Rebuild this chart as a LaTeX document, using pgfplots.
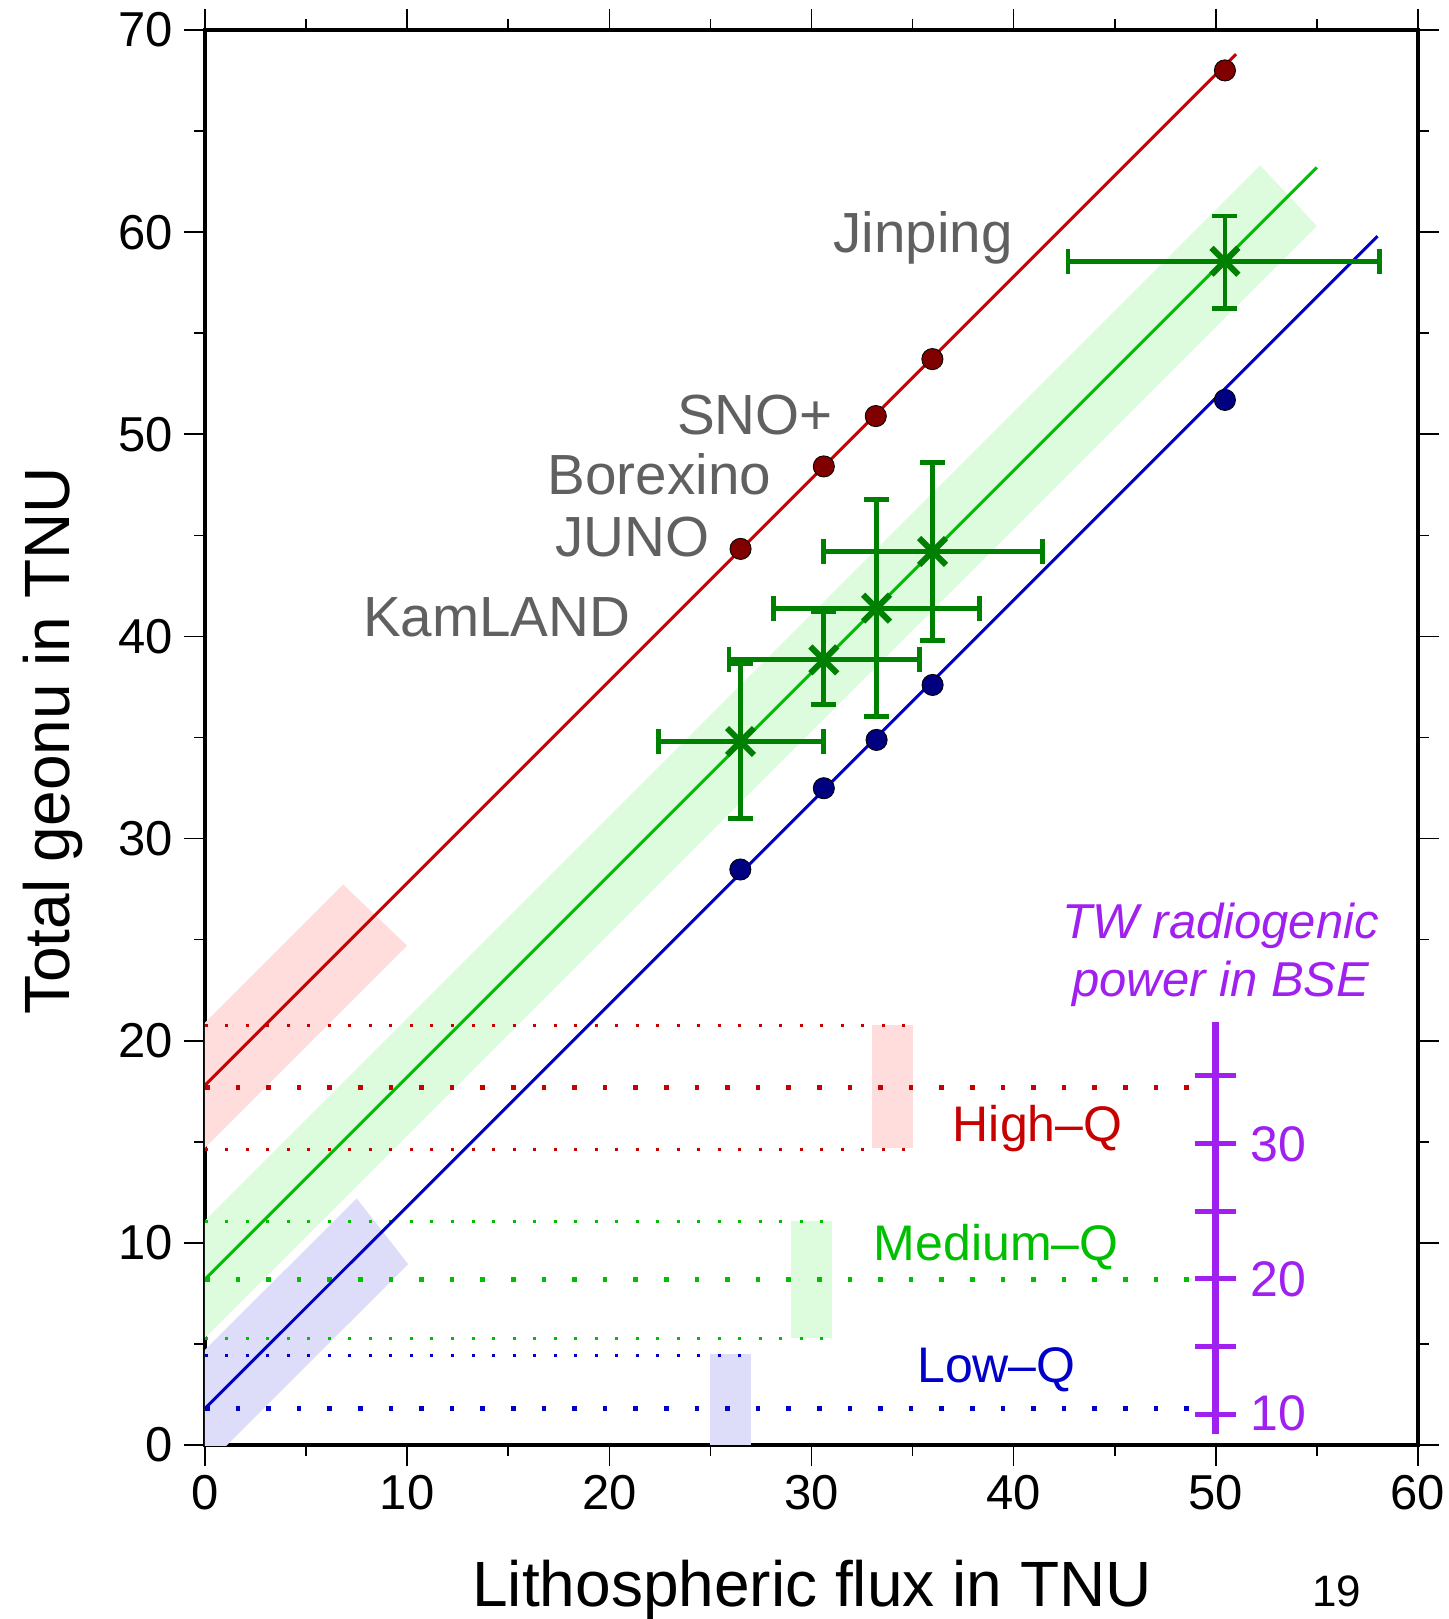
\documentclass[border=0pt]{standalone}
\usepackage{fontspec}
\setmainfont{Liberation Sans}
\usepackage{pgfplots}
\pgfplotsset{compat=1.18}
\definecolor{lred}{RGB}{200,0,0}
\definecolor{dred}{RGB}{128,0,0}
\definecolor{lgreen}{RGB}{0,190,0}
\definecolor{dgreen}{RGB}{0,128,0}
\definecolor{lblue}{RGB}{0,0,200}
\definecolor{dblue}{RGB}{0,0,128}
\definecolor{bred}{RGB}{255,221,221}
\definecolor{bgreen}{RGB}{221,251,221}
\definecolor{bblue}{RGB}{221,221,250}
\definecolor{tw}{RGB}{160,32,240}
\definecolor{lab}{RGB}{96,96,96}
\tikzset{
  thickdot/.style={line width=2.3pt, dash pattern=on 2.3pt off 13pt},
  thindot/.style={line width=1.5pt, dash pattern=on 1.5pt off 8.75pt},
}
\begin{document}
\begin{tikzpicture}
\begin{axis}[
  at={(0,0)}, anchor=south west,
  scale only axis, width=606.5pt, height=707.5pt,
  xmin=0, xmax=60, ymin=0, ymax=70,
  xtick={0,10,...,60}, minor xtick={5,15,...,55},
  ytick={0,10,...,70}, minor ytick={5,15,...,65},
  tick pos=both, tick align=outside,
  xticklabel pos=bottom, yticklabel pos=left,
  major tick length=10.5pt, minor tick length=5.5pt,
  every tick/.style={black, line width=0.8pt},
  axis line style={line width=2pt},
  ticklabel style={font=\fontsize{24.5}{30}\selectfont, /pgf/number format/assume math mode=true},
  yticklabel style={xshift=-2pt},
  xticklabel style={yshift=-1pt},
]
% bands
\addplot[fill=bred, draw=none] coordinates {(-3,17.9) (6.83,27.73) (10.0,24.7) (-3,11.7)} -- cycle;
\addplot[fill=bgreen, draw=none] coordinates {(-3,8.1) (52.2,63.3) (55.0,60.3) (-3,2.3)} -- cycle;
\addplot[fill=bblue, draw=none] coordinates {(-3,1.7) (7.5,12.2) (10.05,8.95) (-3,-4.1)} -- cycle;
% rectangles
\addplot[fill=bred, draw=none] coordinates {(33,14.7) (35,14.7) (35,20.8) (33,20.8)} -- cycle;
\addplot[fill=bgreen, draw=none] coordinates {(29,5.3) (31,5.3) (31,11.1) (29,11.1)} -- cycle;
\addplot[fill=bblue, draw=none] coordinates {(25,0) (27,0) (27,4.5) (25,4.5)} -- cycle;
% dotted lines
\addplot[lred, thindot] coordinates {(0,20.75) (35,20.75)};
\addplot[lred, thickdot] coordinates {(0,17.7) (48.8,17.7)};
\addplot[lred, thindot] coordinates {(0,14.6) (35,14.6)};
\addplot[lgreen, thindot] coordinates {(0,11.05) (31,11.05)};
\addplot[lgreen, thickdot] coordinates {(0,8.2) (48.8,8.2)};
\addplot[lgreen, thindot] coordinates {(0,5.25) (31,5.25)};
\addplot[lblue, thindot] coordinates {(0,4.45) (27,4.45)};
\addplot[lblue, thickdot] coordinates {(0,1.8) (48.8,1.8)};
% model lines
\addplot[lred, line width=1.5pt] coordinates {(0,17.8) (51.0,68.8)};
\addplot[lgreen, line width=1.5pt] coordinates {(0,8.2) (55.0,63.2)};
\addplot[lblue, line width=1.5pt] coordinates {(0,1.8) (58.0,59.8)};
% predicted points
\addplot[only marks, mark=*, mark size=5.3pt, mark options={draw=none, fill=dred}] coordinates {
  (26.49,44.33) (30.61,48.41) (33.18,50.9) (35.98,53.72) (50.45,68.0)};
\addplot[only marks, mark=*, mark size=5.3pt, mark options={draw=none, fill=dblue}] coordinates {
  (26.48,28.47) (30.61,32.49) (33.22,34.88) (35.99,37.6) (50.45,51.7)};
% measurements
\addplot[only marks, mark=x, mark size=9.5pt, mark options={line width=3pt, draw=dgreen}, dgreen,
  error bars/.cd, x dir=both, x explicit, y dir=both, y explicit,
  error bar style={line width=2.4pt, dgreen},
  error mark options={rotate=90, line width=2.4pt, mark size=6.25pt, dgreen}]
  coordinates {
  (26.49,34.8) += (4.09,3.88) -= (4.07,3.79)
  (30.61,38.84) += (4.72,2.39) -= (4.69,2.22)
  (33.22,41.4) += (5.11,5.39) -= (5.11,5.36)
  (35.99,44.2) += (5.44,4.4) -= (5.38,4.4)
  (50.45,58.56) += (7.66,2.24) -= (7.76,2.32)
  };
% TW scale
\addplot[tw, line width=3.4pt] coordinates {(50,0.52) (50,20.95)};
\addplot[only marks, mark=-, mark size=10.3pt, mark options={line width=2.4pt, draw=tw}] coordinates {
  (50,1.5) (50,4.87) (50,8.22) (50,11.55) (50,14.9) (50,18.27)};
% labels
\begin{scope}[every node/.style={inner sep=0pt}]
\node[anchor=base west, text=lab, font=\fontsize{28.3}{34}\selectfont] at (axis cs:31.06,59.0) {Jinping};
\node[anchor=base west, text=lab, font=\fontsize{28.3}{34}\selectfont] at (axis cs:23.33,49.97) {SNO+};
\node[anchor=base west, text=lab, font=\fontsize{28.3}{34}\selectfont] at (axis cs:16.93,47.0) {Borexino};
\node[anchor=base west, text=lab, font=\fontsize{28.3}{34}\selectfont] at (axis cs:17.3,43.95) {JUNO};
\node[anchor=base west, text=lab, font=\fontsize{28.3}{34}\selectfont] at (axis cs:7.8,40.0) {KamLAND};
\node[anchor=base west, text=lred, font=\fontsize{25}{30}\selectfont] at (axis cs:36.97,15.03) {High–Q};
\node[anchor=base west, text=lgreen, font=\fontsize{25}{30}\selectfont] at (axis cs:33.07,9.13) {Medium–Q};
\node[anchor=base west, text=lblue, font=\fontsize{25}{30}\selectfont] at (axis cs:35.21,3.07) {Low–Q};
\node[anchor=base, text=tw, font=\fontsize{24.5}{30}\selectfont\itshape] at (axis cs:50.25,25.08) {TW radiogenic};
\node[anchor=base, text=tw, font=\fontsize{24.5}{30}\selectfont\itshape] at (axis cs:50.25,22.19) {power in BSE};
\node[anchor=west, text=tw, font=\fontsize{25}{30}\selectfont] at (axis cs:51.72,14.9) {30};
\node[anchor=west, text=tw, font=\fontsize{25}{30}\selectfont] at (axis cs:51.72,8.22) {20};
\node[anchor=west, text=tw, font=\fontsize{25}{30}\selectfont] at (axis cs:51.72,1.55) {10};
\end{scope}
\end{axis}
\node[anchor=base, inner sep=0pt, font=\fontsize{32}{38}\selectfont] at (303.5pt,-80.5pt) {Lithospheric flux in TNU};
\node[anchor=base, rotate=90, inner sep=0pt, font=\fontsize{32}{38}\selectfont] at (-67.5pt,352pt) {Total geonu in TNU};
\node[anchor=base west, inner sep=0pt, font=\fontsize{22}{26}\selectfont] at (553.3pt,-80.5pt) {19};
\pgfresetboundingbox
\path (-102.5pt,-87pt) rectangle (622pt,722.5pt);
\end{tikzpicture}
\end{document}
